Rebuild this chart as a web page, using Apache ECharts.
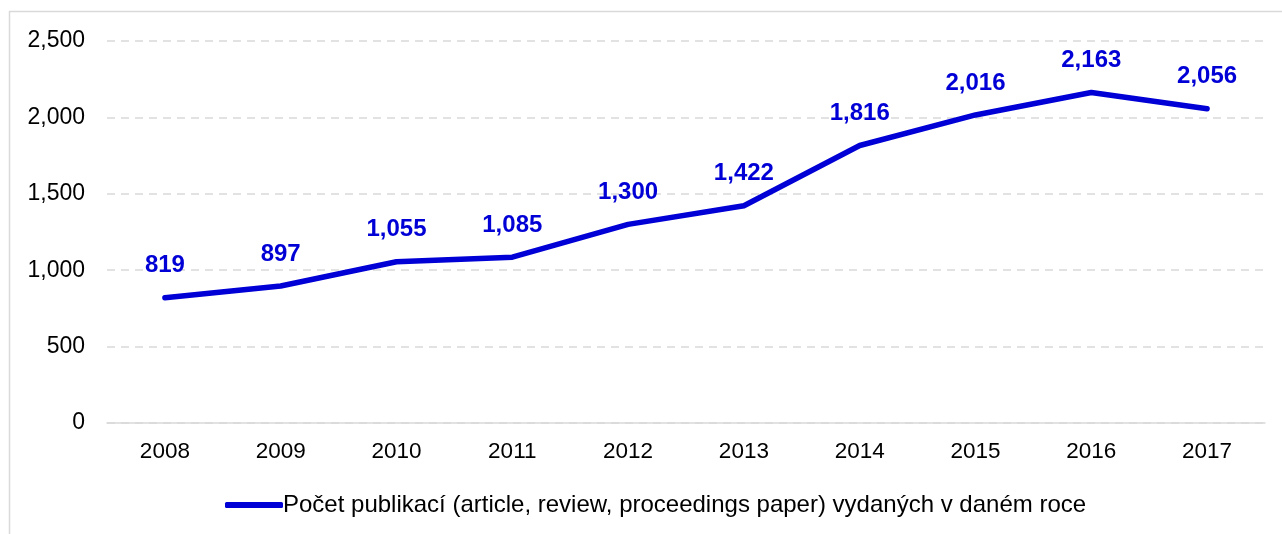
<!DOCTYPE html>
<html><head><meta charset="utf-8">
<script src="https://cdn.jsdelivr.net/npm/echarts@6/dist/echarts.min.js"></script>
<style>html,body{margin:0;padding:0;background:#fff}#c{width:1282px;height:534px}</style>
</head><body><div id="c"></div>
<script>
const years = ['2008','2009','2010','2011','2012','2013','2014','2015','2016','2017'];
const publications = [819, 897, 1055, 1085, 1300, 1422, 1816, 2016, 2163, 2056];
const seriesName = 'Počet publikací (article, review, proceedings paper) vydaných v daném roce';
const yTicks = {min: 0, max: 2500, interval: 500};
const chart = echarts.init(document.getElementById('c'), null, {renderer: 'canvas'});
const fmt = v => v.toLocaleString('en-US');
const FF = 'Liberation Sans, Arial, sans-serif';
const BLUE = '#0000d6';
chart.setOption({
  animation: false,
  backgroundColor: '#fff',
  textStyle: {fontFamily: FF},
  graphic: [{type: 'rect', shape: {x: 9.5, y: 11.5, width: 1300, height: 600}, style: {fill: 'none', stroke: '#d9d9d9', lineWidth: 1.5}, silent: true}],
  grid: {left: 107, right: 17, top: 41, bottom: 111},
  legend: {
    left: 220, top: 488,
    icon: 'roundRect', itemWidth: 58, itemHeight: 6, itemGap: 10,
    textStyle: {fontSize: 24, color: '#000', fontFamily: FF, padding: [0, 0, 0, -5]},
    data: [{name: seriesName, itemStyle: {color: BLUE, opacity: 1}}]
  },
  xAxis: {
    type: 'category', data: years, boundaryGap: true,
    axisLine: {show: true, lineStyle: {color: '#d9d9d9', width: 1.5}},
    axisTick: {show: false},
    axisLabel: {color: '#000', fontSize: 22.5, margin: 17, fontFamily: FF}
  },
  yAxis: {
    type: 'value', min: yTicks.min, max: yTicks.max, interval: yTicks.interval,
    axisLine: {show: false}, axisTick: {show: false},
    axisLabel: {color: '#000', fontSize: 23, margin: 22, formatter: fmt, fontFamily: FF},
    splitLine: {lineStyle: {color: '#d9d9d9', type: [8, 6], width: 1.5}}
  },
  series: [{
    name: seriesName, type: 'line', data: publications,
    symbol: 'circle', symbolSize: 2, showSymbol: true,
    lineStyle: {color: BLUE, width: 5.5, cap: 'round', join: 'round'},
    itemStyle: {color: BLUE},
    label: {show: true, position: 'top', distance: 19, color: BLUE, fontWeight: 'bold', fontSize: 24, fontFamily: FF, formatter: p => fmt(p.value)}
  }]
});
</script></body></html>
